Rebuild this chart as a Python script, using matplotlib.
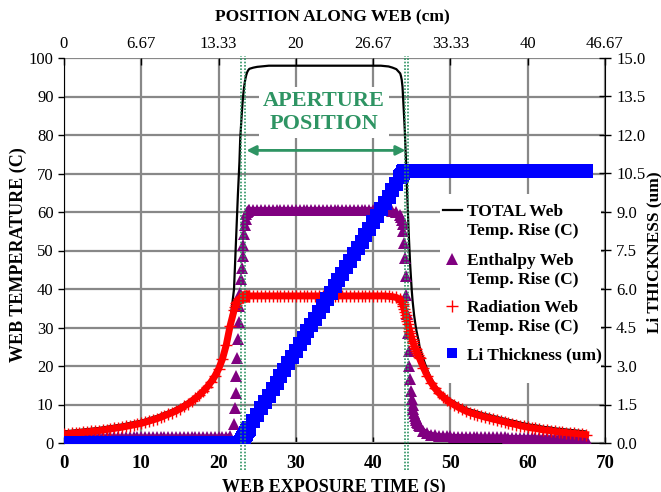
import matplotlib
matplotlib.use("Agg")
import matplotlib.pyplot as plt
from matplotlib.patches import Rectangle
import numpy as np

plt.rcParams['font.family'] = ['Liberation Serif', 'DejaVu Serif']

# sample times (s), denser where the curves change quickly
time_a = [0, 0.5, 1, 1.5, 2, 2.5, 3, 3.5, 4, 4.5, 5, 5.5, 6, 6.5, 7, 7.5, 8, 8.5, 9, 9.5,
          10, 10.5, 11, 11.5, 12, 12.5, 13, 13.5, 14, 14.5, 15, 15.5, 16, 16.5, 17, 17.5,
          18, 18.5, 19, 19.5, 20, 20.5, 21, 21.5]
time_b = [22.0, 22.1, 22.2, 22.3, 22.4, 22.5, 22.6, 22.7, 22.8, 22.9,
          23.0, 23.1, 23.2, 23.3, 23.4, 23.5, 23.6, 23.7, 23.8, 23.9]
time_c = [24, 24.5, 25, 25.5, 26, 26.5, 27, 27.5, 28, 28.5, 29, 29.5, 30, 30.5, 31, 31.5,
          32, 32.5, 33, 33.5, 34, 34.5, 35, 35.5, 36, 36.5, 37, 37.5, 38, 38.5, 39, 39.5,
          40, 40.5, 41, 41.5, 42, 42.5, 43]
time_d = [43.5, 43.6, 43.7, 43.8, 43.9, 44.0, 44.1, 44.2, 44.3, 44.4, 44.5, 44.6, 44.7,
          44.8, 44.9, 45.0, 45.1, 45.2, 45.3, 45.4, 45.5, 45.6, 45.7, 45.8, 45.9]
time_e = [46, 46.5, 47, 47.5, 48, 48.5, 49, 49.5, 50, 50.5, 51, 51.5, 52, 52.5, 53, 53.5,
          54, 54.5, 55, 55.5, 56, 56.5, 57, 57.5, 58, 58.5, 59, 59.5, 60, 60.5, 61, 61.5,
          62, 62.5, 63, 63.5, 64, 64.5, 65, 65.5, 66, 66.5, 67, 67.5]

# TOTAL web temperature rise (C)
total_a = [3.0, 3.1, 3.2, 3.3, 3.4, 3.5, 3.6, 3.7, 3.8, 3.9, 4.05, 4.2, 4.35, 4.5, 4.65,
           4.8, 5.0, 5.2, 5.4, 5.6, 5.8, 6.1, 6.4, 6.7, 7.0, 7.4, 7.8, 8.2, 8.6, 9.1, 9.6,
           10.2, 10.8, 11.5, 12.3, 13.1, 14.1, 15.2, 16.5, 18.0, 19.9, 22.5, 26.2, 31.5]
total_b = [40.0, 45.0, 50.0, 55.0, 60.0, 64.5, 69.0, 73.0, 79.0, 82.5, 85.5, 88.3, 90.6,
           92.4, 93.8, 94.9, 95.7, 96.3, 96.7, 97.0]
total_c = [97.2, 97.5, 97.7, 97.8, 97.9, 98.0, 98.0, 98.0, 98.0, 98.0, 98.0, 98.0, 98.0,
           98.0, 98.0, 98.0, 98.0, 98.0, 98.0, 98.0, 98.0, 98.0, 98.0, 98.0, 98.0, 98.0,
           98.0, 98.0, 98.0, 98.0, 98.0, 98.0, 98.0, 98.0, 98.0, 97.9, 97.8, 97.5, 97.1]
total_d = [96.0, 95.3, 94.3, 92.5, 89.0, 85.0, 81.0, 76.0, 70.5, 65.0, 59.5, 54.5, 50.0,
           46.0, 42.5, 39.5, 37.0, 35.0, 33.2, 31.7, 30.4, 29.2, 28.2, 27.3, 26.5]
total_e = [25.0, 21.8, 19.0, 16.8, 15.1, 13.8, 12.8, 12.0, 11.3, 10.7, 10.1, 9.6, 9.1, 8.7,
           8.4, 8.1, 7.8, 7.5, 7.3, 7.0, 6.8, 6.5, 6.3, 6.0, 5.8, 5.6, 5.3, 5.1, 4.9, 4.7,
           4.6, 4.4, 4.2, 4.1, 4.0, 3.8, 3.7, 3.6, 3.5, 3.4, 3.3, 3.2, 3.1, 3.0]

# enthalpy web temperature rise (C)
enth_a = [1.5, 1.5, 1.5, 1.5, 1.5, 1.5, 1.5, 1.5, 1.5, 1.5, 1.5, 1.5, 1.5, 1.5, 1.5, 1.5,
          1.5, 1.5, 1.5, 1.5, 1.5, 1.5, 1.5, 1.5, 1.5, 1.5, 1.5, 1.5, 1.5, 1.5, 1.5, 1.5,
          1.5, 1.5, 1.5, 1.5, 1.5, 1.5, 1.5, 1.5, 1.5, 1.55, 1.6, 1.8]
enth_b = [5.0, 9.0, 13.0, 17.5, 22.0, 27.0, 31.5, 35.5, 39.0, 42.5, 45.5, 48.5, 51.5, 54.3,
          56.6, 58.3, 59.4, 60.0, 60.3, 60.5]
enth_c = [60.6, 60.6, 60.6, 60.6, 60.6, 60.6, 60.6, 60.6, 60.6, 60.6, 60.6, 60.6, 60.6,
          60.6, 60.6, 60.6, 60.6, 60.6, 60.6, 60.6, 60.6, 60.6, 60.6, 60.6, 60.6, 60.6,
          60.6, 60.6, 60.6, 60.6, 60.6, 60.6, 60.6, 60.6, 60.6, 60.5, 60.4, 60.2, 59.9]
enth_d = [59.3, 58.6, 57.8, 56.8, 55.0, 52.0, 48.0, 43.5, 38.5, 33.5, 28.5, 24.0, 20.0,
          16.5, 13.5, 11.5, 10.0, 8.8, 7.9, 7.1, 6.5, 6.0, 5.5, 5.1, 4.7]
enth_e = [4.3, 3.2, 2.6, 2.2, 2.0, 1.9, 1.8, 1.75, 1.7, 1.65, 1.65, 1.6, 1.6, 1.6, 1.55,
          1.55, 1.5, 1.5, 1.5, 1.5, 1.45, 1.45, 1.45, 1.4, 1.4, 1.4, 1.4, 1.35, 1.35, 1.35,
          1.3, 1.3, 1.3, 1.3, 1.25, 1.25, 1.25, 1.2, 1.2, 1.2, 1.2, 1.15, 1.15, 1.1]

# radiation web temperature rise (C)
rad_a = [2.3, 2.4, 2.5, 2.6, 2.7, 2.8, 2.9, 3.0, 3.1, 3.2, 3.35, 3.5, 3.65, 3.8, 3.95, 4.1,
         4.3, 4.5, 4.7, 4.9, 5.1, 5.4, 5.7, 6.0, 6.3, 6.7, 7.1, 7.5, 7.9, 8.4, 8.9, 9.5,
         10.1, 10.8, 11.6, 12.4, 13.4, 14.5, 15.8, 17.3, 19.2, 21.8, 25.5, 30.5]
rad_b = [34.5, 35.2, 35.8, 36.3, 36.7, 37.0, 37.3, 37.5, 37.7, 37.8, 37.9, 38.0, 38.0, 38.1,
         38.1, 38.1, 38.2, 38.2, 38.2, 38.2]
rad_c = [38.2, 38.2, 38.2, 38.2, 38.2, 38.2, 38.2, 38.2, 38.2, 38.2, 38.2, 38.2, 38.2,
         38.2, 38.2, 38.2, 38.2, 38.2, 38.2, 38.2, 38.2, 38.2, 38.2, 38.2, 38.2, 38.2,
         38.2, 38.2, 38.2, 38.2, 38.2, 38.2, 38.2, 38.2, 38.2, 38.2, 38.1, 38.0, 37.8]
rad_d = [37.3, 37.0, 36.6, 36.1, 35.5, 34.8, 34.0, 33.2, 32.4, 31.6, 30.8, 30.0, 29.2,
         28.5, 27.8, 27.1, 26.5, 25.9, 25.3, 24.8, 24.3, 23.8, 23.3, 22.9, 22.4]
rad_e = [22.0, 19.6, 17.5, 15.7, 14.2, 13.0, 12.0, 11.2, 10.5, 9.9, 9.3, 8.8, 8.3, 7.9,
         7.6, 7.3, 7.0, 6.7, 6.5, 6.2, 6.0, 5.7, 5.5, 5.2, 5.0, 4.8, 4.5, 4.3, 4.1, 3.9,
         3.8, 3.6, 3.4, 3.3, 3.2, 3.0, 2.9, 2.8, 2.7, 2.6, 2.5, 2.4, 2.3, 2.2]

# Li thickness (um), right axis
li_a = [0, 0, 0, 0, 0, 0, 0, 0, 0, 0, 0, 0, 0, 0, 0, 0, 0, 0, 0, 0, 0, 0,
        0, 0, 0, 0, 0, 0, 0, 0, 0, 0, 0, 0, 0, 0, 0, 0, 0, 0, 0, 0, 0, 0]
li_b = [0, 0, 0, 0, 0, 0, 0, 0, 0, 0.05, 0.1, 0.15, 0.2, 0.25, 0.3, 0.35, 0.4, 0.45,
        0.5, 0.55]
li_c = [0.6, 0.85, 1.1, 1.35, 1.6, 1.85, 2.1, 2.35, 2.6, 2.85, 3.1, 3.35, 3.6, 3.85, 4.1,
        4.35, 4.6, 4.85, 5.1, 5.35, 5.6, 5.85, 6.1, 6.35, 6.6, 6.85, 7.1, 7.35, 7.6, 7.85,
        8.1, 8.35, 8.6, 8.85, 9.1, 9.35, 9.6, 9.85, 10.1]
li_d = [10.35, 10.4, 10.45, 10.5, 10.55, 10.6, 10.6, 10.6, 10.6, 10.6, 10.6, 10.6, 10.6,
        10.6, 10.6, 10.6, 10.6, 10.6, 10.6, 10.6, 10.6, 10.6, 10.6, 10.6, 10.6]
li_e = [10.6, 10.6, 10.6, 10.6, 10.6, 10.6, 10.6, 10.6, 10.6, 10.6, 10.6, 10.6, 10.6,
        10.6, 10.6, 10.6, 10.6, 10.6, 10.6, 10.6, 10.6, 10.6, 10.6, 10.6, 10.6, 10.6,
        10.6, 10.6, 10.6, 10.6, 10.6, 10.6, 10.6, 10.6, 10.6, 10.6, 10.6, 10.6, 10.6,
        10.6, 10.6, 10.6, 10.6, 10.6]

aperture_edges = [22.95, 23.45, 44.1, 44.45]
top_tick_labels = ["0", "6.67", "13.33", "20", "26.67", "33.33", "40", "46.67"]
legend_lines = [["TOTAL Web", "Temp. Rise (C)"], ["Enthalpy Web", "Temp. Rise (C)"],
                ["Radiation Web", "Temp. Rise (C)"], ["Li Thickness (um)"]]

t = np.array(time_a + time_b + time_c + time_d + time_e)
total = np.array(total_a + total_b + total_c + total_d + total_e)
enth = np.array(enth_a + enth_b + enth_c + enth_d + enth_e)
rad = np.array(rad_a + rad_b + rad_c + rad_d + rad_e)
li = np.array(li_a + li_b + li_c + li_d + li_e)

green = '#2E9463'
purple = '#800080'
red = '#FF0000'
blue = '#0000FF'
W, H = 661, 492
fig = plt.figure(figsize=(W / 100, H / 100), dpi=100)
ax = fig.add_axes([64 / W, 49 / H, 541 / W, 385 / H])

ax.set_xlim(0, 70)
ax.set_ylim(0, 100)
ax.grid(True, color='#888888', lw=1.6, zorder=0.5)
ax.set_axisbelow(True)

ax.plot(t, total, color='k', lw=1.6, zorder=2)

# enthalpy: dense triangles; a band fills the gaps on the slow parts
for ts, ys in [(time_a, enth_a), (time_c, enth_c), (time_e, enth_e)]:
    ax.plot(ts, ys, color=purple, lw=3.8, solid_capstyle='butt', zorder=3)
ax.plot(t, enth, ls='none', marker='^', ms=9, mew=0, color=purple, zorder=3)

# radiation: plus markers over a red band
ax.plot(t, rad, color=red, lw=5, zorder=4)
ax.plot(t, rad, ls='none', marker='+', ms=9, mew=1.0, color=red, zorder=4)

ax.set_xticks(np.arange(0, 71, 10))
ax.set_yticks(np.arange(0, 101, 10))
ax.tick_params(axis='x', direction='in', length=4, width=1, pad=9, labelsize=13.5)
for lab in ax.get_xticklabels():
    lab.set_fontweight('bold')
ax.tick_params(axis='y', direction='out', length=4, width=1, labelsize=12)
ax.spines['top'].set_visible(False)
ax.spines['right'].set_visible(False)

ax2 = ax.twinx()
ax2.set_ylim(0, 15)
ax2.plot(t, li, ls='none', marker='s', ms=9.5, mew=0, color=blue, zorder=5)
ax2.set_yticks(np.arange(0, 15.01, 1.5))
ax2.set_yticklabels([f"{v:.1f}" for v in np.arange(0, 15.01, 1.5)])
ax2.tick_params(axis='y', direction='inout', length=9, width=1, labelsize=12)
for s in ['top', 'left', 'bottom']:
    ax2.spines[s].set_visible(False)

ax3 = ax.twiny()
ax3.set_xlim(0, 70)
ax3.set_xticks(np.arange(0, 71, 10))
ax3.set_xticklabels(top_tick_labels)
ax3.tick_params(axis='x', direction='in', length=5, width=1, pad=4, labelsize=12)
for s in ax3.spines.values():
    s.set_visible(False)

# aperture markers
for xe in aperture_edges:
    ax3.plot([xe, xe], [-7, 100.5], ls=(0, (1, 1)), color=green, lw=1.2,
             clip_on=False, zorder=6)
ax3.annotate('', xy=(23.6, 76), xytext=(44.2, 76),
             arrowprops=dict(arrowstyle='<|-|>', color=green, lw=2, mutation_scale=14,
                             shrinkA=0, shrinkB=0))
ax3.text(33.6, 85.8, "APERTURE\nPOSITION", ha='center', va='center', fontsize=16,
         fontweight='bold', color=green, linespacing=1.2,
         bbox=dict(facecolor='white', edgecolor='none', pad=3))

# legend drawn by hand so each symbol sits on the first text line
ax3.add_patch(Rectangle((0.695, 0.156), 0.298, 0.49, transform=ax3.transAxes,
                        facecolor='white', edgecolor='none', zorder=7))
hx = 0.718
rows = [0.605, 0.478, 0.356, 0.234]
ax3.plot([0.700, 0.736], [rows[0], rows[0]], color='k', lw=1.6,
         transform=ax3.transAxes, zorder=8)
ax3.plot([hx], [rows[1]], marker='^', ms=8.5, mew=0, color=purple,
         transform=ax3.transAxes, zorder=8)
ax3.plot([hx], [rows[2]], marker='+', ms=9, mew=1.0, color=red,
         transform=ax3.transAxes, zorder=8)
ax3.plot([hx], [rows[3]], marker='s', ms=7, mew=0, color=blue,
         transform=ax3.transAxes, zorder=8)
line_step = 18.5 / 385
for yr, lines in zip(rows, legend_lines):
    for k, txt in enumerate(lines):
        ax3.text(0.745, yr - 0.006 - k * line_step, txt, transform=ax3.transAxes,
                 ha='left', va='center', fontsize=12.5, fontweight='bold', zorder=9)

fig.text(0.503, 1 - 17 / H, "POSITION ALONG WEB (cm)", ha='center', va='center',
         fontsize=12.5, fontweight='bold')
fig.text(0.505, 5 / H, "WEB EXPOSURE TIME (S)", ha='center', va='center',
         fontsize=13, fontweight='bold')
fig.text(18 / W, 1 - 255 / H, "WEB TEMPERATURE (C)", ha='center', va='center',
         rotation=90, fontsize=13, fontweight='bold')
fig.text(654 / W, 1 - 252 / H, "Li THICKNESS (um)", ha='center', va='center',
         rotation=90, fontsize=12.5, fontweight='bold')

fig.savefig("out.png", dpi=100, facecolor='w')
